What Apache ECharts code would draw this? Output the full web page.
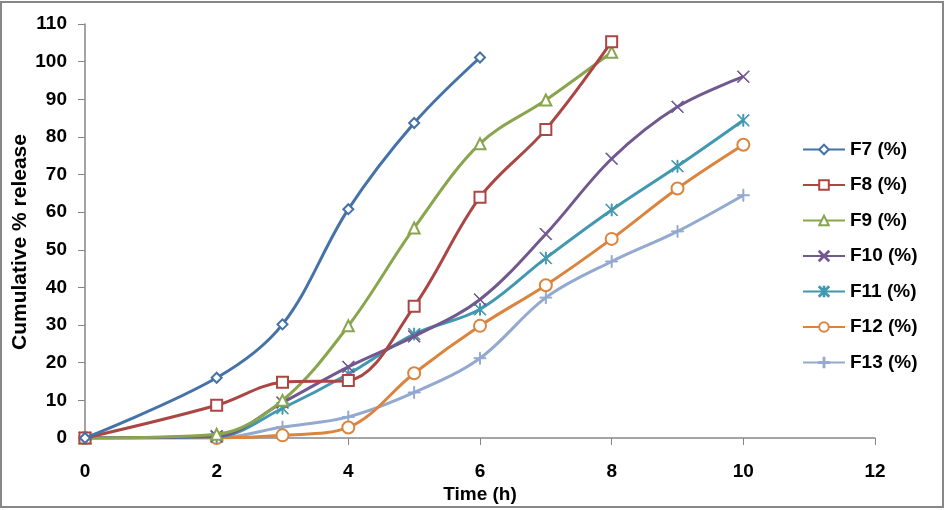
<!DOCTYPE html>
<html>
<head>
<meta charset="utf-8">
<script src="https://cdn.jsdelivr.net/npm/echarts@6/dist/echarts.min.js"></script>
<style>
html,body{margin:0;padding:0;background:#fff;}
#c{width:946px;height:510px;}
</style>
</head>
<body>
<div id="c"></div>
<script>
var time = [0, 2, 3, 4, 5, 6, 7, 8, 9, 10];
var F7  = [0, 16, 30.2, 60.8, 83.7, 101.1];
var F8  = [0, 8.7, 14.8, 15.3, 35, 64, 82, 105.3];
var F9  = [0, 1, 10, 29.8, 55.8, 78.2, 89.8, 102.5];
var F10 = [0, 0.5, 9.4, 18.9, 27, 36.8, 54.2, 74.2, 88, 96];
var F11 = [0, 0.3, 7.9, 17, 27.6, 34.2, 47.8, 60.6, 72.2, 84.4];
var F12 = [0, 0, 0.7, 2.8, 17.2, 29.8, 40.6, 52.9, 66.3, 77.9];
var F13 = [0, 0, 2.9, 5.6, 12.1, 21.2, 37.3, 46.9, 54.9, 64.5];
var names = ['F7 (%)', 'F8 (%)', 'F9 (%)', 'F10 (%)', 'F11 (%)', 'F12 (%)', 'F13 (%)'];
var yTicksMax = 110;
var xTicksMax = 12;

var colors = ['#4572A7', '#AA4643', '#89A54E', '#71588F', '#4198AF', '#DB843D', '#93A9CF'];
var xPath = 'path://M0.5,0 L5,4.5 L9.5,0 L10,0.5 L5.5,5 L10,9.5 L9.5,10 L5,5.5 L0.5,10 L0,9.5 L4.5,5 L0,0.5 Z';
var starPath = 'path://M0.5,0 L5,4.5 L9.5,0 L10,0.5 L5.5,5 L10,9.5 L9.5,10 L5,5.5 L0.5,10 L0,9.5 L4.5,5 L0,0.5 Z M4.6,0 L5.4,0 L5.4,10 L4.6,10 Z';
var plusPath = 'path://M4.6,0 L5.4,0 L5.4,4.6 L10,4.6 L10,5.4 L5.4,5.4 L5.4,10 L4.6,10 L4.6,5.4 L0,5.4 L0,4.6 L4.6,4.6 Z';
var symbols = ['emptyDiamond', 'emptyRect', 'emptyTriangle', xPath, starPath, 'emptyCircle', plusPath];
var sizes = [10, 11, 11, 12, 12, 12, 12];
var data = [F7, F8, F9, F10, F11, F12, F13];

var series = data.map(function (arr, i) {
  return {
    name: names[i],
    type: 'line',
    smooth: 0.35,
    data: arr.map(function (v, j) { return [time[j], v]; }),
    symbol: symbols[i],
    symbolSize: sizes[i],
    showAllSymbol: true,
    lineStyle: { color: colors[i], width: 3 },
    itemStyle: { color: colors[i], borderColor: colors[i], borderWidth: 1 },
    z: 10 - i
  };
});

var font = 'Liberation Sans';
var chart = echarts.init(document.getElementById('c'));
chart.setOption({
  animation: false,
  backgroundColor: '#fff',
  color: colors,
  graphic: [{
    type: 'rect',
    shape: { x: 1, y: 2, width: 942, height: 505 },
    style: { fill: 'none', stroke: '#878787', lineWidth: 2 },
    silent: true
  }],
  grid: { left: 85, right: 71, top: 24, bottom: 72, outerBoundsMode: 'none', containLabel: false },
  legend: {
    orient: 'vertical',
    left: 797,
    top: 135,
    itemWidth: 42,
    itemHeight: 12,
    itemGap: 16.5,
    textStyle: { fontFamily: font, fontWeight: 'bold', fontSize: 19, color: '#000' },
    data: names
  },
  xAxis: {
    type: 'value',
    min: 0, max: xTicksMax, interval: 2,
    name: 'Time (h)',
    nameLocation: 'middle',
    nameGap: 47,
    nameMoveOverlap: false,
    nameTextStyle: { fontFamily: font, fontWeight: 'bold', fontSize: 19, color: '#000' },
    axisLine: { show: true, lineStyle: { color: '#868686', width: 1.5 } },
    axisTick: { show: true, inside: false, length: 7, lineStyle: { color: '#868686' } },
    axisLabel: { margin: 24, fontFamily: font, fontWeight: 'bold', fontSize: 19, color: '#000' },
    splitLine: { show: false }
  },
  yAxis: {
    type: 'value',
    min: 0, max: yTicksMax, interval: 10,
    name: 'Cumulative % release',
    nameLocation: 'middle',
    nameGap: 54,
    nameMoveOverlap: false,
    nameRotate: 90,
    nameTextStyle: { fontFamily: font, fontWeight: 'bold', fontSize: 21, color: '#000', padding: [0, 22, 0, 0] },
    axisLine: { show: true, lineStyle: { color: '#868686', width: 1.5 } },
    axisTick: { show: true, inside: false, length: 7, lineStyle: { color: '#868686' } },
    axisLabel: { margin: 18, fontFamily: font, fontWeight: 'bold', fontSize: 19, color: '#000' },
    splitLine: { show: false }
  },
  series: series
});
</script>
</body>
</html>
